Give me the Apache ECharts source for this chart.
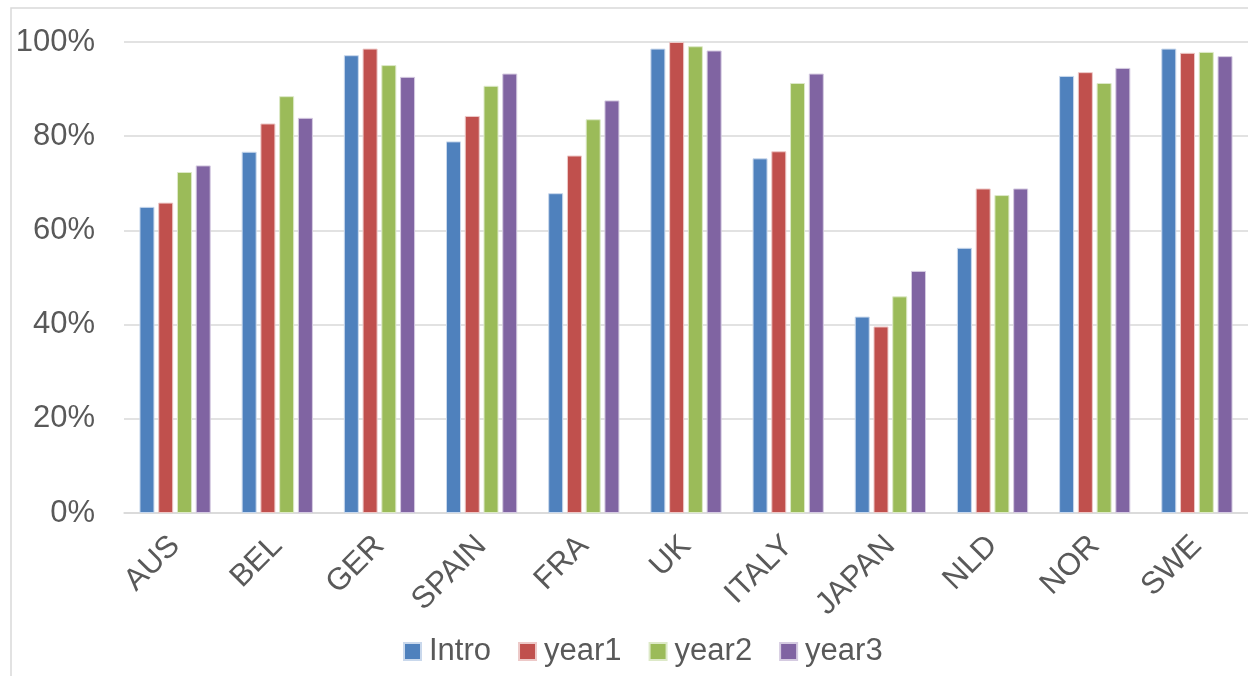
<!DOCTYPE html>
<html>
<head>
<meta charset="utf-8">
<script src="https://cdn.jsdelivr.net/npm/echarts@6/dist/echarts.min.js"></script>
<style>
  html, body { margin: 0; padding: 0; background: #fff; }
  #chart { width: 1248px; height: 676px; }
</style>
</head>
<body>
<div id="chart"></div>
<script>
// Share of each cohort by country (percent)
const countries = ['AUS', 'BEL', 'GER', 'SPAIN', 'FRA', 'UK', 'ITALY', 'JAPAN', 'NLD', 'NOR', 'SWE'];
const intro = [65.0, 76.7, 97.2, 78.9, 67.9, 98.6, 75.3, 41.7, 56.3, 92.8, 98.6];
const year1 = [65.9, 82.7, 98.6, 84.3, 75.9, 100.0, 76.8, 39.6, 68.9, 93.6, 97.7];
const year2 = [72.4, 88.5, 95.1, 90.7, 83.6, 99.1, 91.3, 46.0, 67.5, 91.3, 97.9];
const year3 = [73.8, 83.9, 92.6, 93.3, 87.6, 98.2, 93.3, 51.4, 68.9, 94.5, 97.0];
const yTicks = [0, 20, 40, 60, 80, 100];

const seriesDefs = [
  { name: 'Intro', data: intro, color: '#4F81BD', edge: '#C9D8EC' },
  { name: 'year1', data: year1, color: '#C0504D', edge: '#EDC9C8' },
  { name: 'year2', data: year2, color: '#9BBB59', edge: '#DDE9C8' },
  { name: 'year3', data: year3, color: '#8064A2', edge: '#D5CBE1' }
];

const textColor = '#595959';
const fontFamily = '"Liberation Sans", Arial, sans-serif';
const fontSize = 31;

const chart = echarts.init(document.getElementById('chart'));
chart.setOption({
  animation: false,
  backgroundColor: '#fff',
  graphic: [{
    type: 'rect',
    shape: { x: 11, y: 8, width: 1300, height: 700 },
    style: { fill: 'none', stroke: '#D9D9D9', lineWidth: 1.5 },
    silent: true,
    z: -1
  }],
  grid: { left: 124, top: 42, width: 1139, height: 471, containLabel: false },
  legend: {
    top: 631,
    left: 398,
    itemWidth: 17,
    itemHeight: 17,
    itemGap: 27,
    icon: 'rect',
    textStyle: { color: textColor, fontSize: fontSize, fontFamily: fontFamily, padding: [0, 0, 0, 3] },
    data: seriesDefs.map(s => s.name)
  },
  xAxis: {
    type: 'category',
    data: countries,
    axisLine: { lineStyle: { color: '#D9D9D9', width: 1.5 } },
    axisTick: { show: false },
    axisLabel: { rotate: 45, color: textColor, fontSize: fontSize, fontFamily: fontFamily, margin: 28, interval: 0 }
  },
  yAxis: {
    type: 'value',
    min: yTicks[0],
    max: yTicks[yTicks.length - 1],
    interval: yTicks[1] - yTicks[0],
    axisLine: { show: false },
    axisTick: { show: false },
    splitLine: { lineStyle: { color: '#D9D9D9', width: 1.5 } },
    axisLabel: { formatter: '{value}%', color: textColor, fontSize: fontSize, fontFamily: fontFamily, margin: 29 }
  },
  series: seriesDefs.map(s => ({
    name: s.name,
    type: 'bar',
    data: s.data,
    barWidth: 15,
    barGap: '25%',
    itemStyle: { color: s.color, borderColor: s.edge, borderWidth: 1 }
  }))
});
</script>
</body>
</html>
